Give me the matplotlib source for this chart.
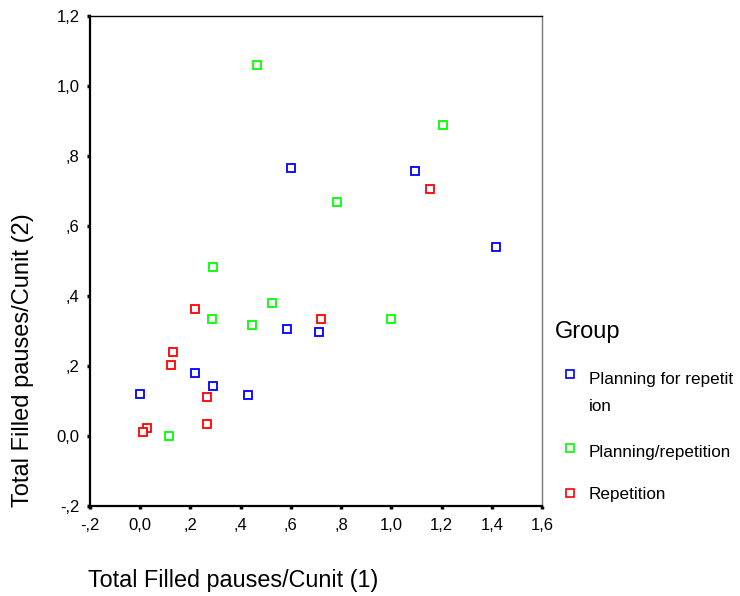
import matplotlib

matplotlib.use("Agg")
import matplotlib.pyplot as plt  # noqa: E402
from matplotlib.lines import Line2D  # noqa: E402
from matplotlib.ticker import FuncFormatter  # noqa: E402

plt.rcParams["font.family"] = ["Liberation Sans", "DejaVu Sans"]

# values
plan_for_rep_x = [0.602, 1.096, 1.418, 0.584, 0.712, 0.220, 0.291, 0.000, 0.429]
plan_for_rep_y = [0.766, 0.756, 0.539, 0.306, 0.298, 0.181, 0.144, 0.121, 0.116]
plan_rep_x = [0.467, 1.205, 0.784, 0.291, 0.524, 0.285, 0.998, 0.447, 0.115]
plan_rep_y = [1.060, 0.887, 0.669, 0.483, 0.381, 0.334, 0.334, 0.316, 0.000]
rep_x = [1.153, 0.220, 0.719, 0.130, 0.123, 0.265, 0.027, 0.012, 0.265]
rep_y = [0.706, 0.362, 0.334, 0.241, 0.204, 0.112, 0.024, 0.010, 0.033]

groups = ["Planning for repetit\nion", "Planning/repetition", "Repetition"]
colors = ["#0000ff", "#00ff00", "#ff0000"]
xticks = [-0.2, 0.0, 0.2, 0.4, 0.6, 0.8, 1.0, 1.2, 1.4, 1.6]
yticks = [-0.2, 0.0, 0.2, 0.4, 0.6, 0.8, 1.0, 1.2]


def spss_fmt(v, _pos=None):
    # SPSS style: comma decimal, no leading zero below 1
    s = f"{v:.1f}".replace(".", ",")
    if abs(v) < 1 and abs(v) > 1e-9:
        s = s.replace("0,", ",")
    return s


fig = plt.figure(figsize=(7.4, 5.96), dpi=100)
ax = fig.add_axes([90 / 740, 90 / 596, 452 / 740, 490.3 / 596])

series = [(plan_for_rep_x, plan_for_rep_y), (plan_rep_x, plan_rep_y), (rep_x, rep_y)]
for (xs, ys), c in zip(series, colors):
    ax.plot(xs, ys, ls="none", marker="s", ms=5.8, mfc="white", mec=c, mew=1.3,
            clip_on=False)

ax.set_xlim(-0.2, 1.6)
ax.set_ylim(-0.2, 1.2)
ax.set_xticks(xticks)
ax.set_yticks(yticks)
ax.xaxis.set_major_formatter(FuncFormatter(spss_fmt))
ax.yaxis.set_major_formatter(FuncFormatter(spss_fmt))
ax.tick_params(direction="out", length=2.5, width=2.5, labelsize=12, color="black")
ax.tick_params(axis="x", pad=6)
ax.tick_params(axis="y", pad=5)

for side in ("left", "bottom"):
    ax.spines[side].set_linewidth(1.6)
ax.spines["top"].set_linewidth(1.0)
ax.spines["right"].set_linewidth(1.0)
ax.spines["right"].set_color("#777777")

fig.text(233 / 740, 1 - 580 / 596, "Total Filled pauses/Cunit (1)", fontsize=16.8,
         ha="center", va="center")
fig.text(23 / 740, 1 - 360 / 596, "Total Filled pauses/Cunit (2)", fontsize=17,
         ha="center", va="center", rotation=90)

# legend drawn by hand so the wrapped label sits like the original
fig.text(555 / 740, 1 - 332 / 596, "Group", fontsize=17, ha="left", va="center")
marker_y = [374, 448, 493]
text_y = [393, 452, 495]
for lab, c, my, ty in zip(groups, colors, marker_y, text_y):
    fig.add_artist(Line2D([570 / 740], [1 - my / 596], transform=fig.transFigure,
                          ls="none", marker="s", ms=5.3, mfc="white", mec=c, mew=1.2))
    fig.text(589 / 740, 1 - ty / 596, lab, fontsize=12.3, ha="left", va="center",
             linespacing=1.95)

fig.savefig("out.png", dpi=100)
